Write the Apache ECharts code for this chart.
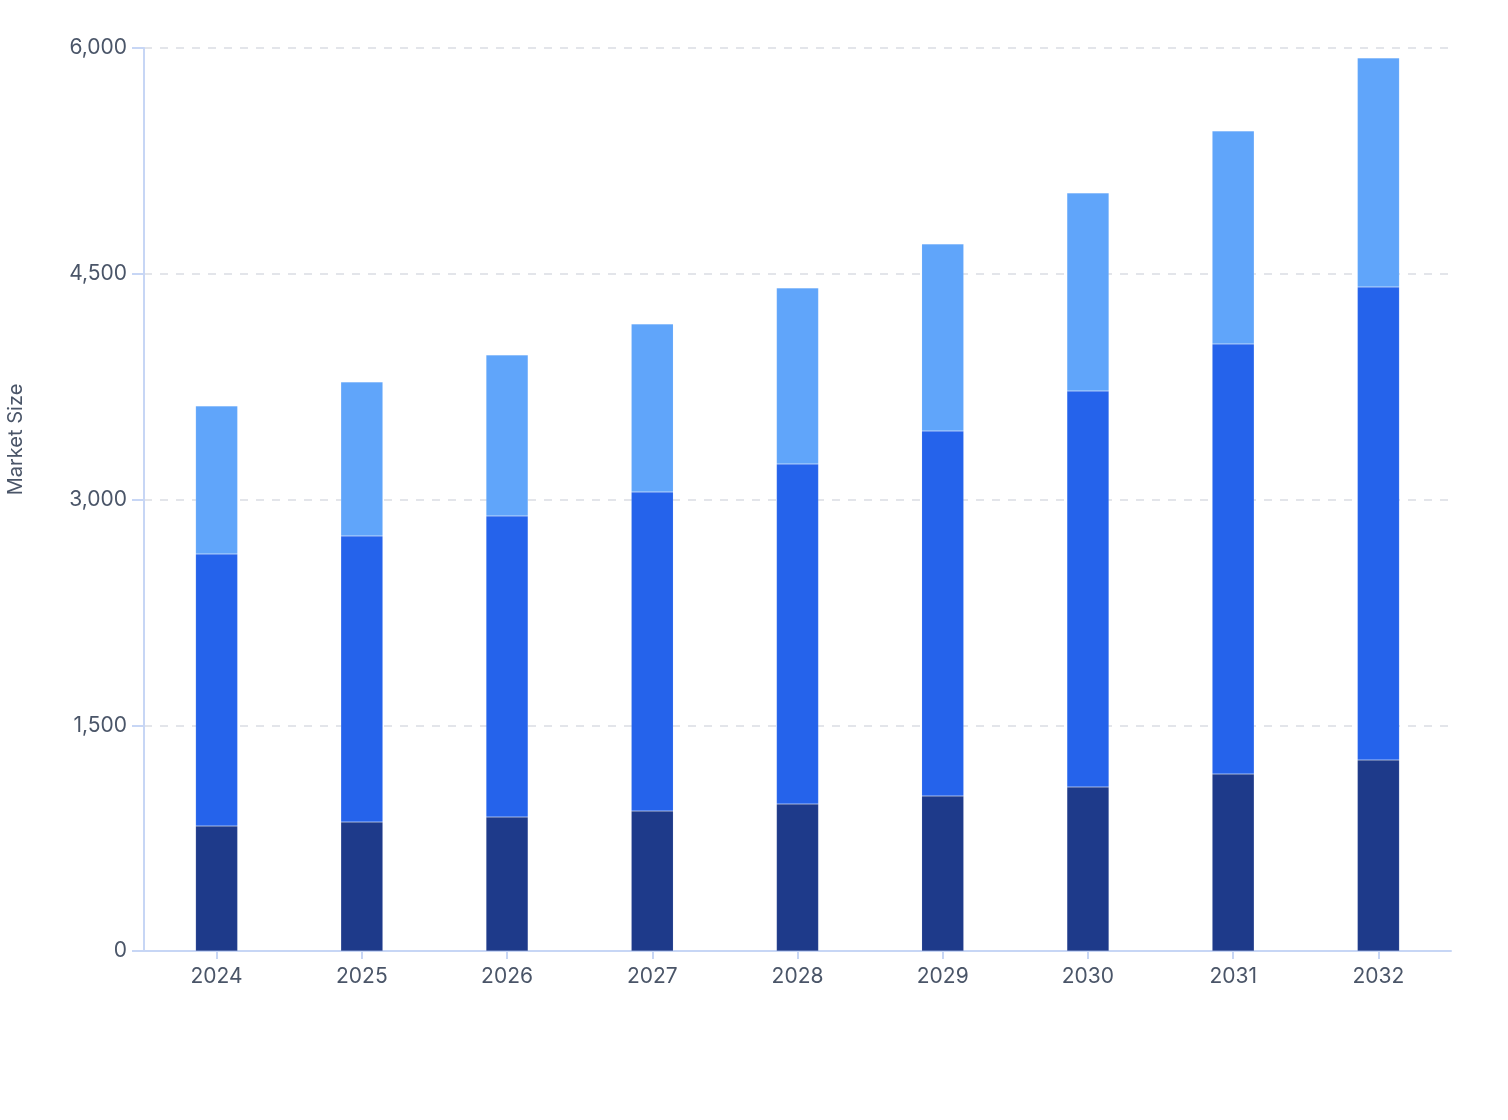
<!DOCTYPE html>
<html>
<head>
<meta charset="utf-8">
<script src="https://cdn.jsdelivr.net/npm/echarts@6/dist/echarts.min.js"></script>
<style>
html,body{margin:0;padding:0;background:#fff;}
#chart{width:1508px;height:1120px;}
</style>
</head>
<body>
<div id="chart"></div>
<script>
const categories = ['2024','2025','2026','2027','2028','2029','2030','2031','2032'];
const seriesDark = [830, 857, 890, 930, 977, 1030, 1090, 1176, 1269];
const seriesMid = [1808, 1901, 2001, 2120, 2259, 2425, 2631, 2858, 3143];
const seriesLight = [983, 1023, 1069, 1116, 1170, 1243, 1316, 1415, 1522];
const yTicks = [0, 1500, 3000, 4500, 6000];

const textColor = '#4a5568';
const axisColor = '#c7d6f5';
const fontFamily = 'Inter, "Noto Sans", sans-serif';

const chart = echarts.init(document.getElementById('chart'));
function barSeries(name, data, color) {
  return {
    name: name,
    type: 'bar',
    stack: 'total',
    data: data,
    barWidth: 42,
    itemStyle: { color: color, borderColor: 'rgba(255,255,255,0.2)', borderWidth: 0.5 },
    emphasis: { disabled: true }
  };
}
chart.setOption({
  animation: false,
  backgroundColor: '#ffffff',
  grid: { left: 144, right: 57, top: 48, bottom: 169, containLabel: false, outerBoundsMode: 'none' },
  xAxis: {
    type: 'category',
    data: categories,
    axisLine: { show: true, lineStyle: { color: axisColor, width: 2 } },
    axisTick: { show: true, alignWithLabel: true, length: 8, lineStyle: { color: axisColor, width: 2 } },
    axisLabel: { color: textColor, fontSize: 21, fontFamily: fontFamily, margin: 15 }
  },
  yAxis: {
    type: 'value',
    min: yTicks[0],
    max: yTicks[yTicks.length - 1],
    interval: yTicks[1] - yTicks[0],
    name: 'Market Size',
    nameLocation: 'middle',
    nameGap: 118,
    nameTextStyle: { color: textColor, fontSize: 20, fontFamily: fontFamily, padding: [0, 0, 0, 120] },
    axisLine: { show: true, lineStyle: { color: axisColor, width: 2 } },
    axisTick: { show: true, length: 12, lineStyle: { color: axisColor, width: 2 } },
    axisLabel: {
      color: textColor, fontSize: 21, fontFamily: fontFamily, margin: 17,
      formatter: function (v) { return v.toLocaleString('en-US'); }
    },
    splitLine: { show: true, lineStyle: { color: '#e3e5ea', type: [8, 8], width: 2 } }
  },
  series: [
    barSeries('Segment A', seriesDark, '#1e3a8a'),
    barSeries('Segment B', seriesMid, '#2563eb'),
    barSeries('Segment C', seriesLight, '#60a5fa')
  ]
});
</script>
</body>
</html>
